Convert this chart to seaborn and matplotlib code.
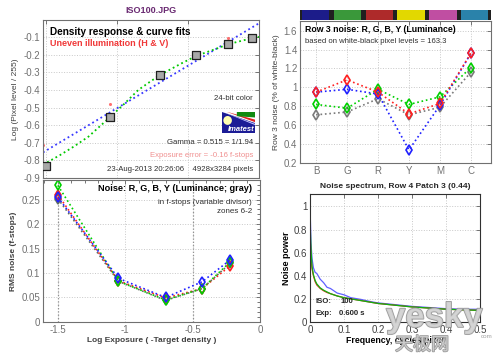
import numpy as np
import pandas as pd
import matplotlib
matplotlib.use("Agg")
import matplotlib.pyplot as plt
import matplotlib.patheffects as pe
from matplotlib.patches import Polygon, Ellipse
from matplotlib.ticker import FuncFormatter
import seaborn as sns

# ---- density response (top left) ----
zone_logexp = [-1.5, -1.05, -0.70, -0.44, -0.22, -0.05]
zone_logpix = [-0.83, -0.555, -0.316, -0.203, -0.137, -0.105]
fit_logexp = [-1.52, 0.0]
fit_logpix = [-0.755, -0.02]
curve_logexp = [-1.52, -1.4, -1.3, -1.2, -1.05, -0.95, -0.85, -0.78, -0.7, -0.55, -0.44, -0.3, -0.22, -0.1, 0.0]
curve_logpix = [-0.825, -0.77, -0.72, -0.665, -0.555, -0.48, -0.40, -0.36, -0.316, -0.25, -0.205, -0.165, -0.14, -0.115, -0.097]
uneven_logexp = [-1.52, -1.05, -0.22]
uneven_logpix = [-0.71, -0.48, -0.105]

# ---- row 3 noise (top right) ----
patch_names = ["B", "G", "R", "Y", "M", "C"]
patch_colors = ["#1c1c8a", "#3a983a", "#ae2a2a", "#e2d800", "#c04ea2", "#2a82aa"]
row3_gray = [0.71, 0.74, 0.88, 0.71, 0.79, 1.16]
row3_green = [0.82, 0.78, 0.98, 0.82, 0.90, 1.21]
row3_blue = [0.95, 0.98, 0.93, 0.34, 0.81, 1.36]
row3_red = [0.95, 1.08, 0.95, 0.72, 0.83, 1.36]

# ---- noise in f-stops (bottom left) ----
noise_logexp = [-1.5, -1.05, -0.70, -0.43, -0.22]
noise_gray = [0.252, 0.083, 0.044, 0.068, 0.120]
noise_red = [0.260, 0.084, 0.049, 0.068, 0.115]
noise_green = [0.279, 0.083, 0.045, 0.068, 0.123]
noise_blue = [0.255, 0.089, 0.050, 0.082, 0.127]

# ---- noise spectrum (bottom right) ----
freq = [0, 0.001, 0.003, 0.006, 0.01, 0.015, 0.02, 0.03, 0.04, 0.05, 0.06, 0.08,
        0.1, 0.12, 0.15, 0.18, 0.2, 0.25, 0.3, 0.35, 0.4, 0.45, 0.5]
spec_red = [0.80, 0.70, 0.55, 0.46, 0.40, 0.35, 0.32, 0.29, 0.27, 0.255, 0.245, 0.225,
            0.21, 0.20, 0.185, 0.17, 0.16, 0.145, 0.13, 0.12, 0.11, 0.105, 0.10]
spec_green = [1.00, 0.80, 0.62, 0.48, 0.41, 0.36, 0.33, 0.295, 0.275, 0.26, 0.245, 0.225,
              0.21, 0.20, 0.185, 0.17, 0.16, 0.145, 0.13, 0.12, 0.11, 0.105, 0.10]
spec_blue = [1.12, 0.90, 0.68, 0.55, 0.47, 0.43, 0.42, 0.37, 0.34, 0.30, 0.29, 0.25,
             0.235, 0.21, 0.195, 0.175, 0.165, 0.15, 0.135, 0.125, 0.115, 0.11, 0.11]

RED, GREEN, BLUE, GRAY = "#ff2020", "#00d000", "#2020ff", "#7a7a7a"

sns.set_style("white")
plt.rcParams["font.family"] = ["Liberation Sans", "Noto Sans CJK SC", "DejaVu Sans"]
plt.rcParams["axes.unicode_minus"] = False

fmt_g = FuncFormatter(lambda v, p: "%g" % round(v, 3))


def matlab_axes(ax, spine="#707070"):
    ax.tick_params(direction="in", top=True, right=True, length=3, width=0.6,
                   color="#606060", labelcolor="#707070", labelsize=7, pad=2)
    for s in ax.spines.values():
        s.set_color(spine)
        s.set_linewidth(0.8)
    ax.grid(True, linestyle=":", color="#c8c8c8", linewidth=0.7)
    ax.set_axisbelow(True)


def diamonds(ax, x, y, color, size=5):
    df = pd.DataFrame({"x": x, "y": y})
    sns.lineplot(data=df, x="x", y="y", ax=ax, color=color, linestyle=":", linewidth=1.2,
                 marker="d", markersize=size, markerfacecolor="none",
                 markeredgecolor=color, markeredgewidth=1.2, sort=False)


fig = plt.figure(figsize=(5, 3.53), dpi=100)
fig.patch.set_facecolor("white")

# ================= top left =================
ax1 = fig.add_axes([0.086, 0.496, 0.432, 0.448])
matlab_axes(ax1)
sns.lineplot(x=fit_logexp, y=fit_logpix, ax=ax1, color="#3838ff", linestyle=":", linewidth=1.3)
sns.lineplot(x=curve_logexp, y=curve_logpix, ax=ax1, color="#00c800", linestyle=":", linewidth=1.3, sort=False)
sns.scatterplot(x=uneven_logexp, y=uneven_logpix, ax=ax1, color="#ff7070", s=5, linewidth=0)
sns.scatterplot(x=zone_logexp, y=zone_logpix, ax=ax1, marker="s", s=28, color="#a8a8a8",
                edgecolor="#202020", linewidth=0.9, zorder=5)
ax1.set_xlim(-1.52, 0)
ax1.set_ylim(-0.9, 0)
ax1.set_xticks([-1.5, -1, -0.5])
ax1.set_xticklabels([])
ax1.set_yticks(np.arange(-0.9, -0.05, 0.1))
ax1.yaxis.set_major_formatter(fmt_g)
ax1.set_xlabel("")
ax1.set_ylabel("Log (Pixel level / 255)", fontsize=6, color="#404040", labelpad=3)
ax1.set_title("ISO100.JPG", fontsize=6.5, fontweight="bold", color="#6a2a72", pad=5)

t1 = ax1.transAxes
ax1.text(0.032, 0.924, "Density response & curve fits", transform=t1, fontsize=7.2,
         fontweight="bold", color="black", va="center")
ax1.text(0.032, 0.853, "Uneven illumination (H & V)", transform=t1, fontsize=6.5,
         fontweight="bold", color="#f03838", va="center")
ax1.text(0.972, 0.50, "24-bit color", transform=t1, fontsize=5.6, color="#303030", ha="right", va="center")
ax1.text(0.972, 0.223, "Gamma = 0.515 = 1/1.94", transform=t1, fontsize=5.6, color="#303030", ha="right", va="center")
ax1.text(0.972, 0.141, "Exposure error = -0.16 f-stops", transform=t1, fontsize=5.6, color="#f09090",
         ha="right", va="center")
ax1.text(0.972, 0.055, "23-Aug-2013 20:26:06    4928x3284 pixels", transform=t1, fontsize=5.6,
         color="#303030", ha="right", va="center")

# imatest logo
logo = fig.add_axes([0.444, 0.624, 0.066, 0.060])
logo.set_facecolor("#1c1c96")
logo.set_xlim(0, 1)
logo.set_ylim(0, 1)
logo.set_xticks([])
logo.set_yticks([])
for s in logo.spines.values():
    s.set_visible(False)
logo.add_patch(Polygon([[0, 1], [1, 1], [1, 0.45]], closed=True, color="white", lw=0))
logo.add_patch(Polygon([[0.12, 1], [1, 0.62], [1, 0.5]], closed=True, color="#e02020", lw=0))
logo.add_patch(Polygon([[0.45, 1], [1, 1], [1, 0.72], [0.45, 0.78]], closed=True, color="#108a10", lw=0))
logo.add_patch(Polygon([[0.0, 1], [1, 0.42], [1, 0.36]], closed=True, color="#c0c0ff", lw=0))
logo.add_patch(Ellipse((0.17, 0.58), 0.26, 0.42, color="#ffffb0", lw=0))
logo.text(0.97, 0.17, "Imatest", fontsize=5.5, fontstyle="italic", fontweight="bold",
          color="white", ha="right", va="center")

# ================= top right =================
axc = fig.add_axes([0.6, 0.943, 0.382, 0.028])
axc.set_facecolor("#202020")
axc.bar(np.arange(len(patch_names)) + 0.06, [1] * len(patch_names), width=0.86, align="edge",
        color=patch_colors, linewidth=0)
axc.set_xlim(0, 6)
axc.set_ylim(0, 1)
axc.set_xticks([])
axc.set_yticks([])
for s in axc.spines.values():
    s.set_visible(False)

ax2 = fig.add_axes([0.6, 0.538, 0.382, 0.402])
matlab_axes(ax2)
pos = list(range(len(patch_names)))
diamonds(ax2, pos, row3_gray, GRAY)
diamonds(ax2, pos, row3_green, GREEN)
diamonds(ax2, pos, row3_blue, BLUE)
diamonds(ax2, pos, row3_red, RED)
ax2.set_xlim(-0.52, 5.65)
ax2.set_ylim(0.2, 1.7)
ax2.set_xticks(pos)
ax2.set_xticklabels(patch_names)
ax2.set_yticks(np.arange(0.2, 1.61, 0.2))
ax2.yaxis.set_major_formatter(fmt_g)
ax2.set_xlabel("")
ax2.set_ylabel("Row 3 noise (% of white-black)", fontsize=6, color="#404040", labelpad=3)
t2 = ax2.transAxes
ax2.text(0.026, 0.94, "Row 3 noise: R, G, B, Y (Luminance)", transform=t2, fontsize=6.3,
         fontweight="bold", color="black", va="center")
ax2.text(0.026, 0.854, "based on white-black pixel levels = 163.3", transform=t2, fontsize=5.6,
         color="#303030", va="center")

# ================= bottom left =================
ax3 = fig.add_axes([0.086, 0.088, 0.434, 0.402])
matlab_axes(ax3)
ax3.minorticks_on()
ax3.tick_params(which="minor", direction="in", top=True, right=True, length=2, color="#606060")
ax3.axvline(-1.5, color="#909090", linestyle=":", linewidth=0.9)
ax3.axvline(-0.5, color="#909090", linestyle=":", linewidth=0.9)
diamonds(ax3, noise_logexp, noise_gray, "#607060")
diamonds(ax3, noise_logexp, noise_red, RED)
diamonds(ax3, noise_logexp, noise_green, GREEN)
diamonds(ax3, noise_logexp, noise_blue, BLUE)
ax3.set_xlim(-1.61, 0)
ax3.set_ylim(0, 0.29)
ax3.set_xticks([-1.5, -1, -0.5, 0])
ax3.set_yticks([0, 0.05, 0.1, 0.15, 0.2, 0.25])
ax3.xaxis.set_major_formatter(fmt_g)
ax3.yaxis.set_major_formatter(fmt_g)
ax3.set_xlabel("Log Exposure ( -Target density )", fontsize=6, fontweight="bold", color="#404040", labelpad=2)
ax3.set_ylabel("RMS noise (f-stops)", fontsize=6, fontweight="bold", color="#404040", labelpad=3)
t3 = ax3.transAxes
ax3.text(0.962, 0.941, "Noise: R, G, B, Y (Luminance; gray)", transform=t3, fontsize=6.6,
         fontweight="bold", color="black", ha="right", va="center")
ax3.text(0.962, 0.843, "in f-stops (variable divisor)", transform=t3, fontsize=5.8,
         color="#303030", ha="right", va="center")
ax3.text(0.962, 0.777, "zones 6-2", transform=t3, fontsize=5.8, color="#303030", ha="right", va="center")

# ================= bottom right =================
ax4 = fig.add_axes([0.62, 0.088, 0.34, 0.363])
matlab_axes(ax4, spine="#303030")
spec = pd.DataFrame({"freq": freq * 3,
                     "power": spec_blue + spec_red + spec_green,
                     "channel": ["B"] * len(freq) + ["R"] * len(freq) + ["G"] * len(freq)})
sns.lineplot(data=spec, x="freq", y="power", hue="channel", palette={"B": "#6060ff", "R": "#e03020", "G": "#10b010"},
             ax=ax4, linewidth=0.9, legend=False, sort=False)
ax4.set_xlim(0, 0.5)
ax4.set_ylim(0, 1.11)
ax4.set_xticks([0, 0.1, 0.2, 0.3, 0.4, 0.5])
ax4.set_yticks([0, 0.2, 0.4, 0.6, 0.8, 1])
ax4.xaxis.set_major_formatter(fmt_g)
ax4.yaxis.set_major_formatter(fmt_g)
ax4.tick_params(labelcolor="#404040")
ax4.set_xlabel("Frequency, cycles/pixel", fontsize=6.3, fontweight="bold", color="black", labelpad=1)
ax4.set_ylabel("Noise power", fontsize=6.5, fontweight="bold", color="black", labelpad=2)
ax4.set_title("Noise spectrum, Row 4 Patch 3 (0.44)", fontsize=6, fontweight="bold", pad=4)
t4 = ax4.transAxes
ax4.text(0.03, 0.16, "ISO:", transform=t4, fontsize=5.6, fontweight="bold", va="center")
ax4.text(0.18, 0.16, "100", transform=t4, fontsize=5.6, fontweight="bold", va="center")
ax4.text(0.03, 0.065, "Exp:", transform=t4, fontsize=5.6, fontweight="bold", va="center")
ax4.text(0.17, 0.065, "0.600 s", transform=t4, fontsize=5.6, fontweight="bold", va="center")

# watermark
wm = [pe.withStroke(linewidth=1.2, foreground="#8c8c8c")]
fig.text(0.772, 1 - 327 / 353, "yesky", fontsize=25, fontweight="bold", color="#d4d4d4",
         alpha=0.85, path_effects=wm)
fig.text(0.79, 1 - 350 / 353, "天极网", fontsize=13, color="#d4d4d4", alpha=0.85,
         family=["Noto Sans CJK SC", "DejaVu Sans"], path_effects=wm)
fig.text(0.962, 1 - 338 / 353, "com", fontsize=4.5, color="#a0a0a0")

fig.savefig("out.png", dpi=100)
